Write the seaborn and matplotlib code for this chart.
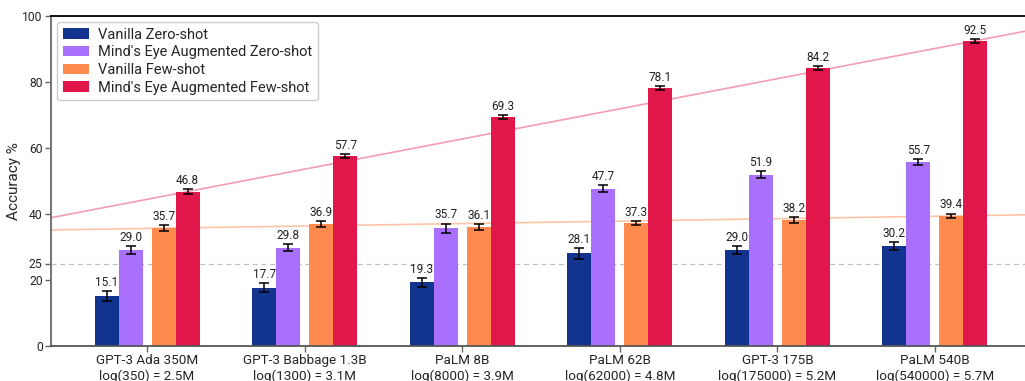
import numpy as np
import pandas as pd
import matplotlib
matplotlib.use("Agg")
import matplotlib.pyplot as plt
import seaborn as sns

# ---------------- data ----------------
models = ["GPT-3 Ada 350M", "GPT-3 Babbage 1.3B", "PaLM 8B", "PaLM 62B", "GPT-3 175B", "PaLM 540B"]
log_labels = ["log(350) = 2.5M", "log(1300) = 3.1M", "log(8000) = 3.9M",
              "log(62000) = 4.8M", "log(175000) = 5.2M", "log(540000) = 5.7M"]
series = ["Vanilla Zero-shot", "Mind's Eye Augmented Zero-shot",
          "Vanilla Few-shot", "Mind's Eye Augmented Few-shot"]

vanilla_zero = [15.1, 17.7, 19.3, 28.1, 29.0, 30.2]
mindseye_zero = [29.0, 29.8, 35.7, 47.7, 51.9, 55.7]
vanilla_few = [35.7, 36.9, 36.1, 37.3, 38.2, 39.4]
mindseye_few = [46.8, 57.7, 69.3, 78.1, 84.2, 92.5]

err_vanilla_zero = [1.5, 1.3, 1.4, 1.7, 1.25, 1.2]
err_mindseye_zero = [1.2, 1.0, 1.4, 1.05, 1.0, 0.9]
err_vanilla_few = [1.0, 0.85, 0.85, 0.65, 0.8, 0.75]
err_mindseye_few = [0.8, 0.6, 0.65, 0.6, 0.6, 0.55]

y_ticks = [0, 20, 25, 40, 60, 80, 100]
chance_level = 25

colors = ["#12348f", "#a970fe", "#fe8a4e", "#e1164b"]

# ---------------- style ----------------
sns.set_style("white")
plt.rcParams["font.family"] = ["Roboto", "DejaVu Sans"]

fig = plt.figure(figsize=(10.25, 3.81), dpi=100)
ax = fig.add_axes([51 / 1025, 35 / 381, 980 / 1025, 330 / 381])

idx = np.arange(len(models))
offsets = [-0.257, -0.105, 0.105, 0.257]
bar_w = 0.152

all_vals = [vanilla_zero, mindseye_zero, vanilla_few, mindseye_few]
all_errs = [err_vanilla_zero, err_mindseye_zero, err_vanilla_few, err_mindseye_few]

for name, vals, errs, off, c in zip(series, all_vals, all_errs, offsets, colors):
    xs = idx + off
    sns.barplot(x=xs, y=vals, native_scale=True, width=bar_w, color=c,
                saturation=1, label=name, errorbar=None, ax=ax, zorder=2,
                linewidth=0)
    ax.errorbar(xs, vals, yerr=errs, fmt="none", ecolor="black",
                elinewidth=1.1, capsize=3.6, capthick=1.1, zorder=3)
    for x, v, e in zip(xs, vals, errs):
        ax.annotate(f"{v:.1f}", (x, v + e), xytext=(0, 1.5),
                    textcoords="offset points", ha="center", va="bottom",
                    fontsize=8.5, color="#222222", zorder=4)

# trend lines through first and last few-shot points
for vals, off, c, a in [(vanilla_few, offsets[2], colors[2], 0.5),
                        (mindseye_few, offsets[3], colors[3], 0.42)]:
    ax.axline((idx[0] + off, vals[0]), (idx[-1] + off, vals[-1]),
              color=c, alpha=a, lw=1.2, zorder=1)

ax.axhline(chance_level, color="#c0c0c0", ls=(0, (4, 3)), lw=0.9, zorder=0.5)

ax.set_xlim(-0.61, 5.61)
ax.set_ylim(0, 100)
ax.set_yticks(y_ticks)
ax.set_yticklabels([str(t) for t in y_ticks])
ax.set_xticks(idx)
ax.set_xticklabels([f"{m}\n{l}" for m, l in zip(models, log_labels)])
ax.set_xlabel("")
ax.set_ylabel("Accuracy %", fontsize=11)
ax.yaxis.set_label_coords(-0.031, 0.5)

ax.tick_params(axis="y", length=4, width=1, color="#666666", labelsize=8.7,
               pad=2, left=True)
ax.tick_params(axis="x", length=4, width=1, color="#666666", labelsize=9.7,
               pad=2, bottom=True)

ax.spines["top"].set_color("black")
ax.spines["top"].set_linewidth(1.3)
ax.spines["left"].set_color("#777777")
ax.spines["left"].set_linewidth(1.5)
ax.spines["bottom"].set_color("#555555")
ax.spines["bottom"].set_linewidth(1.3)
ax.spines["right"].set_visible(False)

ax.legend(loc="upper left", fontsize=10.5, frameon=True, edgecolor="#cccccc",
          fancybox=True, framealpha=1, borderaxespad=0.4, handlelength=1.8,
          labelspacing=0.25, handletextpad=0.6, borderpad=0.4)

fig.savefig("out.png", dpi=100)
